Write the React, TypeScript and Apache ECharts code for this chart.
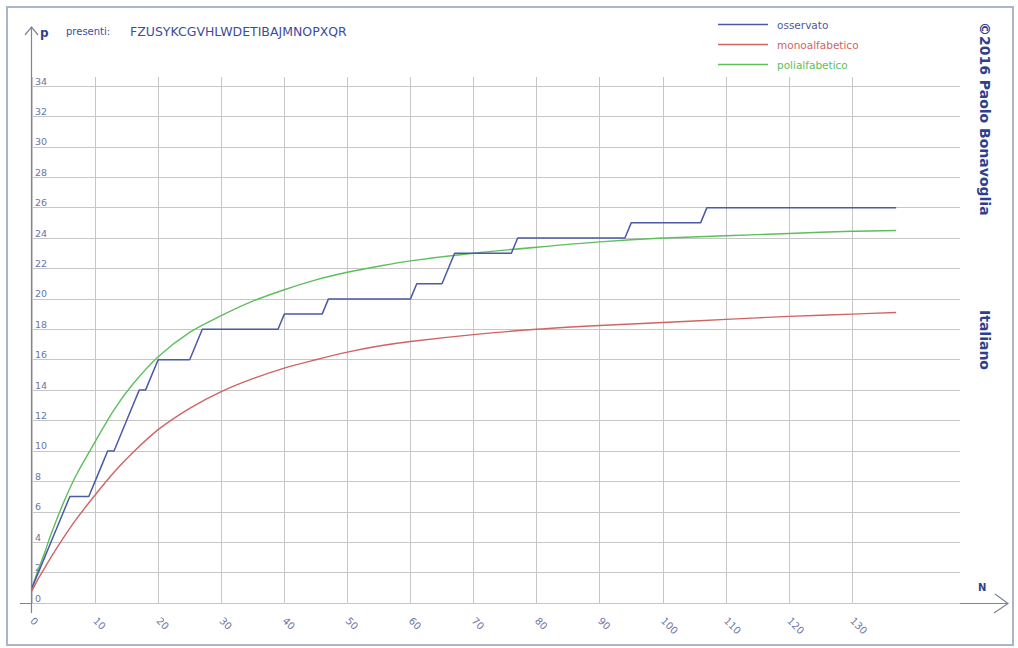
import React, { useEffect, useRef } from "react";
import * as echarts from "echarts";

// Letters in order of first appearance in the text
const LETTERS = "FZUSYKCGVHLWDETIBAJMNOPXQR";
// Position (N) at which each of those letters first shows up
const FIRST_SEEN = [0, 1, 2, 3, 4, 5, 6, 10, 11, 12, 14, 15, 16, 17, 19, 20, 26, 27, 40, 47, 61, 66, 67, 77, 95, 107];
const LAST_N = 137;

// Expected number of distinct letters for the two models
const MODEL_N = [0, 1, 2, 3, 5, 7, 10, 13, 16, 20, 25, 30, 35, 40, 45, 50, 55, 60, 70, 80, 90, 100, 110, 120, 130, 137];
const MONO = [0.8, 1.6, 2.3, 3.0, 4.3, 5.5, 7.1, 8.6, 9.9, 11.4, 12.8, 13.9, 14.75, 15.45, 16.0, 16.5, 16.9, 17.2, 17.65, 18.0, 18.25, 18.45, 18.65, 18.85, 19.0, 19.1];
const POLI = [1.0, 2.2, 3.3, 4.5, 6.6, 8.4, 10.6, 12.7, 14.4, 16.2, 17.8, 18.9, 19.85, 20.6, 21.25, 21.75, 22.15, 22.5, 23.0, 23.4, 23.75, 24.0, 24.15, 24.3, 24.45, 24.5];

const SERIES_NAMES = ["osservato", "monoalfabetico", "polialfabetico"];
const COLORS = ["#4b59a8", "#d06464", "#5cbf5c"];

const Y_MAX = 34;
const Y_STEP = 2;
const X_GRID_MAX = 130;
const X_STEP = 10;

// layout
const ORIGIN_X = 32;
const ORIGIN_Y = 603;
const TOP_Y = 86;
const GRID_X_END = 852; // x pixel of N = 130
const PLOT_RIGHT = 960;

const FONT = "DejaVu Sans, Verdana, sans-serif";
const AXIS_COLOR = "#7d8499";
const LABEL_COLOR = "#6b74a6";
const GRID_COLOR = "#c6c6c6";
const DARK_BLUE = "#2f3f8f";

export default function App() {
  const ref = useRef<HTMLDivElement>(null);

  useEffect(() => {
    if (!ref.current) return;
    const chart = echarts.init(ref.current, null, { renderer: "svg" });

    const pxPerN = (GRID_X_END - ORIGIN_X) / X_GRID_MAX;
    const plotXMax = (PLOT_RIGHT - ORIGIN_X) / pxPerN;

    const observed: [number, number][] = [];
    for (let n = 0; n <= LAST_N; n++) {
      observed.push([n, FIRST_SEEN.filter((f) => f <= n).length]);
    }
    const mono = MODEL_N.map((n, i) => [n, MONO[i]]);
    const poli = MODEL_N.map((n, i) => [n, POLI[i]]);

    chart.setOption({
      animation: false,
      backgroundColor: "#ffffff",
      grid: [
        { left: ORIGIN_X, top: TOP_Y, width: PLOT_RIGHT - ORIGIN_X, height: ORIGIN_Y - TOP_Y },
        { left: ORIGIN_X, top: 77, width: GRID_X_END - ORIGIN_X, height: ORIGIN_Y - 77 },
      ],
      xAxis: [
        {
          gridIndex: 0,
          type: "value",
          min: 0,
          max: plotXMax,
          show: false,
          splitLine: { show: false },
        },
        {
          gridIndex: 1,
          type: "value",
          min: 0,
          max: X_GRID_MAX,
          interval: X_STEP,
          axisLine: { show: false },
          axisTick: { show: false },
          splitLine: { show: true, lineStyle: { color: GRID_COLOR, width: 1 } },
          axisLabel: {
            rotate: -45,
            margin: 16,
            fontSize: 10,
            color: LABEL_COLOR,
            fontFamily: FONT,
          },
        },
      ],
      yAxis: [
        {
          gridIndex: 0,
          type: "value",
          min: 0,
          max: Y_MAX,
          interval: Y_STEP,
          axisLine: { show: false },
          axisTick: { show: false },
          splitLine: { show: true, lineStyle: { color: GRID_COLOR, width: 1 } },
          axisLabel: {
            inside: true,
            margin: 3,
            verticalAlign: "bottom",
            fontSize: 9.5,
            color: LABEL_COLOR,
            fontFamily: FONT,
          },
        },
        {
          gridIndex: 1,
          type: "value",
          min: 0,
          max: 1,
          show: false,
          splitLine: { show: false },
        },
      ],
      legend: {
        left: 713,
        top: 14,
        orient: "vertical",
        itemWidth: 50,
        itemHeight: 1.5,
        itemGap: 9,
        icon: "rect",
        textStyle: { fontSize: 10.5, fontFamily: FONT, padding: [0, 0, 0, 4] },
        data: SERIES_NAMES.map((name, i) => ({ name, textStyle: { color: COLORS[i] } })),
      },
      series: [
        {
          name: SERIES_NAMES[0],
          type: "line",
          xAxisIndex: 0,
          yAxisIndex: 0,
          data: observed,
          symbol: "none",
          lineStyle: { color: COLORS[0], width: 1.5 },
          itemStyle: { color: COLORS[0] },
          z: 4,
        },
        {
          name: SERIES_NAMES[1],
          type: "line",
          xAxisIndex: 0,
          yAxisIndex: 0,
          data: mono,
          symbol: "none",
          smooth: 0.3,
          lineStyle: { color: COLORS[1], width: 1.4 },
          itemStyle: { color: COLORS[1] },
          z: 3,
        },
        {
          name: SERIES_NAMES[2],
          type: "line",
          xAxisIndex: 0,
          yAxisIndex: 0,
          data: poli,
          symbol: "none",
          smooth: 0.3,
          lineStyle: { color: COLORS[2], width: 1.4 },
          itemStyle: { color: COLORS[2] },
          z: 3,
        },
      ],
      graphic: [
        {
          type: "rect",
          shape: { x: 7, y: 7, width: 1006, height: 638 },
          style: { fill: "none", stroke: "#aab5cc", lineWidth: 2 },
          silent: true,
        },
        // vertical axis with arrow
        {
          type: "line",
          shape: { x1: 31.5, y1: 613, x2: 31.5, y2: 28 },
          style: { stroke: AXIS_COLOR, lineWidth: 1.2 },
          silent: true,
        },
        {
          type: "polyline",
          shape: { points: [[25, 35], [31.5, 27], [38, 35]] },
          style: { stroke: AXIS_COLOR, lineWidth: 1.2, fill: "none" },
          silent: true,
        },
        // horizontal axis with arrow
        {
          type: "line",
          shape: { x1: 20, y1: ORIGIN_Y + 0.5, x2: 1008, y2: ORIGIN_Y + 0.5 },
          style: { stroke: AXIS_COLOR, lineWidth: 1.2 },
          silent: true,
        },
        {
          type: "polyline",
          shape: { points: [[995, 594], [1008, 603.5], [994, 613]] },
          style: { stroke: AXIS_COLOR, lineWidth: 1.2, fill: "none" },
          silent: true,
        },
        {
          type: "text",
          x: 40,
          y: 33,
          style: { text: "p", font: `bold 12px ${FONT}`, fill: DARK_BLUE, textVerticalAlign: "middle" },
          silent: true,
        },
        {
          type: "text",
          x: 978,
          y: 587,
          style: { text: "N", font: `bold 10px ${FONT}`, fill: DARK_BLUE, textVerticalAlign: "middle" },
          silent: true,
        },
        {
          type: "text",
          x: 66,
          y: 31,
          style: { text: "presenti:", font: `10px ${FONT}`, fill: "#3c4c9c", textVerticalAlign: "middle" },
          silent: true,
        },
        {
          type: "text",
          x: 130,
          y: 31,
          style: { text: LETTERS, font: `12.5px ${FONT}`, fill: "#3c4c9c", textVerticalAlign: "middle" },
          silent: true,
        },
        {
          type: "text",
          x: 985,
          y: 22,
          rotation: -Math.PI / 2,
          style: {
            text: "©2016 Paolo Bonavoglia",
            font: `bold 14px ${FONT}`,
            fill: DARK_BLUE,
            textAlign: "left",
            textVerticalAlign: "middle",
          },
          silent: true,
        },
        {
          type: "text",
          x: 985,
          y: 310,
          rotation: -Math.PI / 2,
          style: {
            text: "Italiano",
            font: `bold 14px ${FONT}`,
            fill: DARK_BLUE,
            textAlign: "left",
            textVerticalAlign: "middle",
          },
          silent: true,
        },
      ],
    });

    return () => chart.dispose();
  }, []);

  return (
    <div
      ref={ref}
      style={{ position: "absolute", left: 0, top: 0, width: 1018, height: 648 }}
    />
  );
}
